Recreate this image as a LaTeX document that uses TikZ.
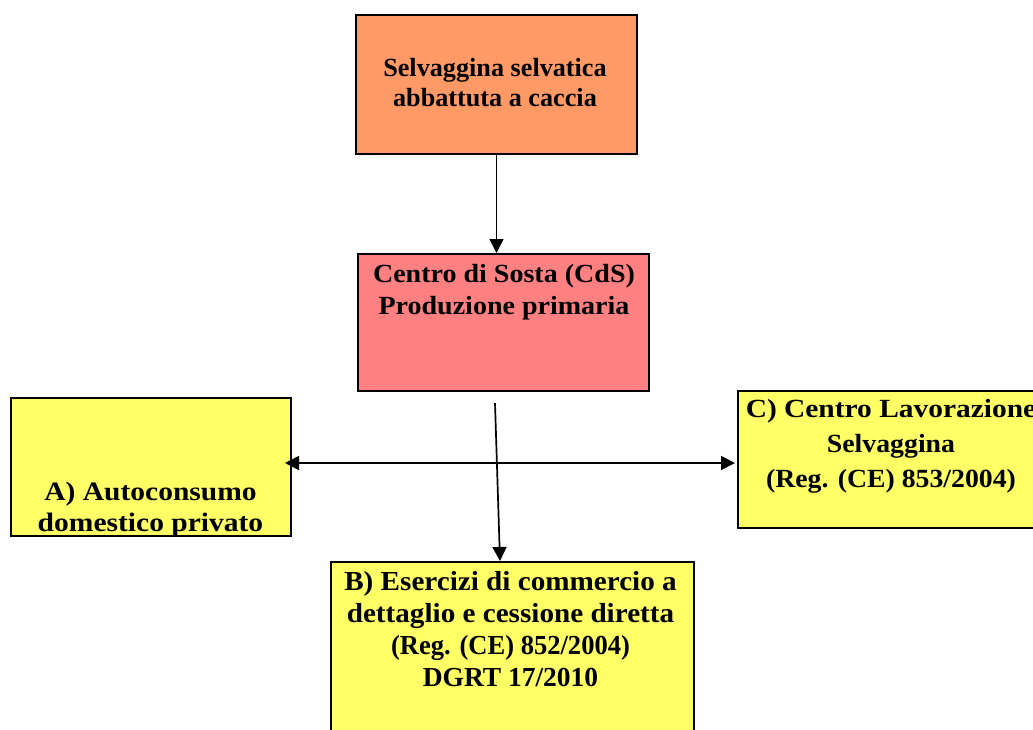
\documentclass[tikz,border=0pt]{standalone}
\usepackage{fontspec}
\usepackage{graphicx}
\setmainfont{Liberation Serif}
\newfontfamily\fS[FakeStretch=1.07]{Liberation Serif}
\newfontfamily\fA[FakeStretch=1.11]{Liberation Serif}
\newfontfamily\fC[FakeStretch=1.06]{Liberation Serif}
\newcommand\hstretch[2]{\scalebox{#1}[1]{#2}}
\usetikzlibrary{arrows.meta}
\definecolor{orangebox}{HTML}{FF9966}
\definecolor{pinkbox}{HTML}{FF8080}
\definecolor{yellowbox}{HTML}{FFFF66}
\tikzset{
  box/.style={draw=black, line width=2pt, inner sep=0pt, anchor=north west},
  lbl/.style={anchor=base, align=center, inner sep=0pt},
  arr/.style={line width=1.7pt, -{Triangle[length=14pt,width=14pt]}},
  darr/.style={line width=1.7pt, {Triangle[length=14pt,width=14pt]}-{Triangle[length=14pt,width=14pt]}},
}
\begin{document}
\begin{tikzpicture}[x=1pt,y=-1pt]
\useasboundingbox (0,0) rectangle (1033,729);
\clip (0,0) rectangle (1033,729);
\fill[white] (0,0) rectangle (1033,729);
% boxes
\node[box, fill=orangebox, minimum width=281pt, minimum height=139pt] (top) at (355,14) {};
\node[box, fill=pinkbox, minimum width=291pt, minimum height=137pt] (cds) at (357,253) {};
\node[box, fill=yellowbox, minimum width=280pt, minimum height=138pt] (a) at (10,397) {};
\node[box, fill=yellowbox, minimum width=310pt, minimum height=137pt] (c) at (737,390) {};
\node[box, fill=yellowbox, minimum width=363pt, minimum height=190pt] (b) at (330,561) {};
% connectors
\draw[arr] (top.south) -- (top.south |- cds.north);
\coordinate (cdsOut) at (495,403);
\draw[arr] (cdsOut) -- ([xshift=-12.5pt]b.north);
\coordinate (hy) at (0,463);
\draw[darr] ([xshift=-7pt]a.east |- hy) -- ([xshift=-2pt]c.west |- hy);
% texts (anchor = baseline of the last line)
\node[lbl, font=\bfseries\fontsize{26.2}{30}\selectfont] (topt) at (495,106) {Selvaggina selvatica\\abbattuta a caccia};
\node[lbl, font=\fS\bfseries\fontsize{26.2}{31.5}\selectfont] (cdst) at (504,314) {Centro di Sosta (CdS)\\Produzione primaria};
\begin{scope}
  \clip (a.north west) rectangle ([yshift=1pt]a.south east);
  \node[lbl, font=\fA\bfseries\fontsize{26.6}{31.7}\selectfont] (at) at (150.5,531.7) {A) Autoconsumo\\domestico privato};
\end{scope}
\node[lbl, font=\fC\bfseries\fontsize{26.2}{35}\selectfont] (ct) at (891,487) {\hstretch{1.06}{C) Centro Lavorazione}\\Selvaggina\\(Reg. (CE) 853/2004)};
\node[lbl, font=\bfseries\fontsize{27.5}{32}\selectfont] (bt) at (510.5,686.7) {\hstretch{1.06}{B) Esercizi di commercio a}\\\hstretch{1.06}{dettaglio e cessione diretta}\\\hstretch{0.965}{(Reg. (CE) 852/2004)}\\DGRT 17/2010};
\end{tikzpicture}
\end{document}
